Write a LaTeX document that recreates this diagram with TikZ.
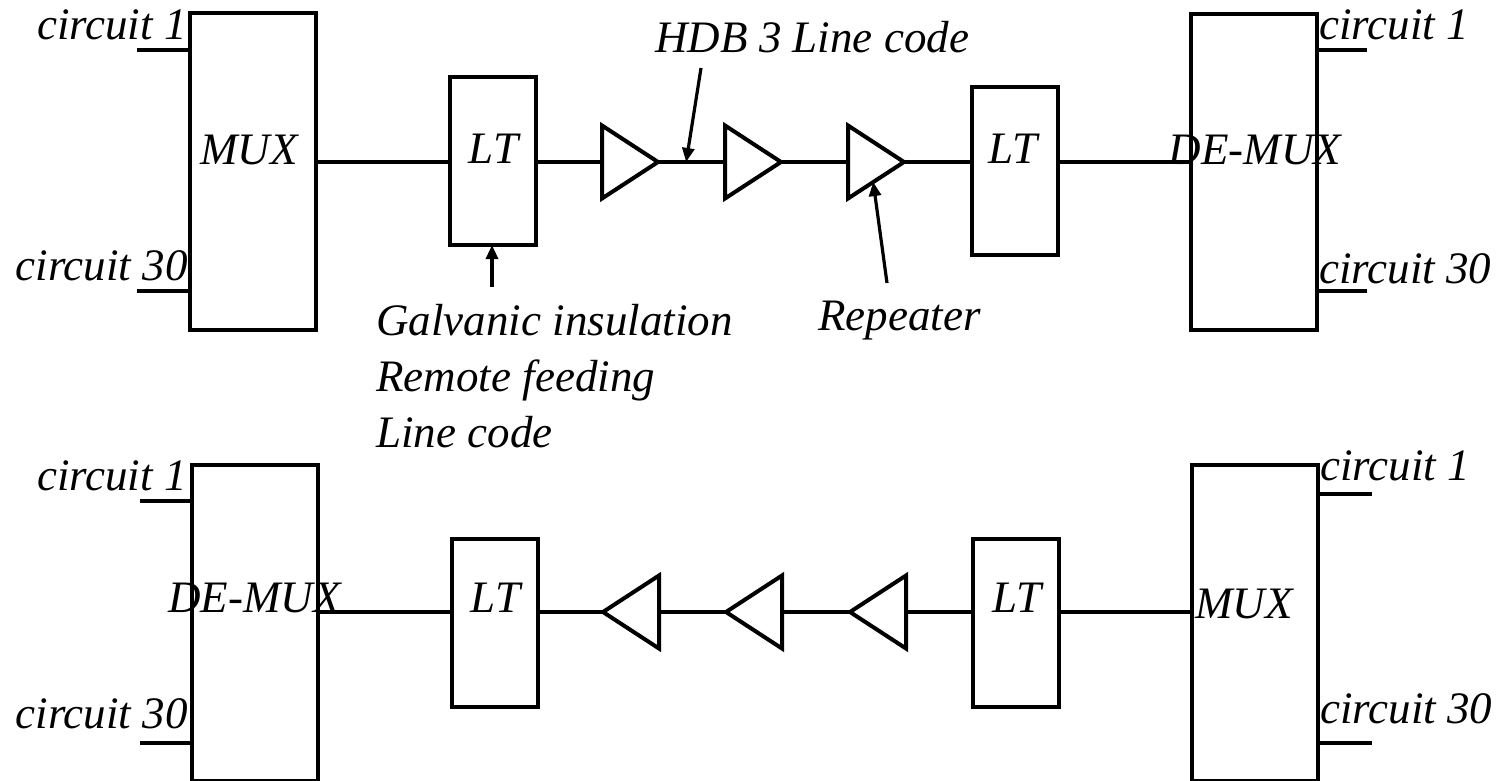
\documentclass[tikz,border=0pt]{standalone}
\usepackage{fontspec}
\setmainfont{Liberation Serif}
\usepackage{tikz}
\usetikzlibrary{arrows.meta, calc, shapes.geometric}

\begin{document}
\begin{tikzpicture}[
    x=0.5pt, y=-0.5pt,
    unit/.style={
        rectangle, draw, line width=2pt,
        inner sep=0pt, outer sep=0pt
    },
    muxbox/.style={unit, minimum width=63pt, minimum height=158pt},
    ltbox/.style={unit, minimum width=43pt, minimum height=84pt},
    amp/.style={
        isosceles triangle, isosceles triangle stretches, draw,
        line width=2pt, inner sep=0pt, outer sep=0pt,
        minimum width=36.5pt, minimum height=28pt
    },
    lbl/.style={inner sep=0pt, font=\fontsize{22.5}{28}\selectfont\itshape},
    wire/.style={line width=2pt},
    arr/.style={-{Triangle[length=7pt, width=6pt]}, line width=1.6pt},
]
\useasboundingbox (0,0) rectangle (1509,781);

%% Row 1: MUX -> LT -> repeaters -> LT -> DE-MUX
\node[muxbox] (mux1)   at (252.5,171.5) {};
\node[ltbox]  (lt1)    at (493,161) {};
\node[amp, anchor=west] (tri1) at (602,162) {};
\node[amp, anchor=west] (tri2) at (725,162) {};
\node[amp, anchor=west] (tri3) at (848,162) {};
\node[ltbox]  (lt2)    at (1014.5,171) {};
\node[muxbox] (demux1) at (1253.5,172) {};

\node[lbl, anchor=base] (mux1t)   at (249,164) {MUX};
\node[lbl, anchor=base] (lt1t)    at (493.5,163) {LT};
\node[lbl, anchor=base] (lt2t)    at (1013,163) {LT};
\node[lbl, anchor=base] (demux1t) at (1255,164) {DE-MUX};

%% Row 1 circuits
\coordinate (in1)  at (137,50);
\coordinate (in30) at (137,291);
\coordinate (out1)  at (1367,50);
\coordinate (out30) at (1367,291);
\draw[wire] (in1)  -- (in1 -| mux1.west);
\draw[wire] (in30) -- (in30 -| mux1.west);
\draw[wire] (out1 -| demux1.east)  -- (out1);
\draw[wire] (out30 -| demux1.east) -- (out30);
\node[lbl, anchor=base east] (c1a)  at (187,40)  {circuit 1};
\node[lbl, anchor=base east] (c30a) at (188,280) {circuit 30};
\node[lbl, anchor=base west] (c1b)  at (1319,40)  {circuit 1};
\node[lbl, anchor=base west] (c30b) at (1319,283) {circuit 30};

%% Row 1 line
\draw[wire] (mux1.east |- tri1.west) -- (lt1.west |- tri1.west);
\draw[wire] (lt1.east |- tri1.west) -- (tri1.west);
\draw[wire] (tri1.east) -- (tri2.west);
\draw[wire] (tri2.east) -- (tri3.west);
\draw[wire] (tri3.east) -- (tri3.east -| lt2.west);
\draw[wire] (lt2.east |- tri3.east) -- (demux1.west |- tri3.east);

%% Row 1 annotations
\coordinate (hdb)  at (701,68);
\coordinate (galv) at (492,287);
\coordinate (rep)  at (887,283);
\draw[arr] (hdb) -- ($(tri1.east)!0.42!(tri2.west)$);
\draw[arr] (galv) -- (galv |- lt1.south);
\draw[arr] (rep) -- ($(tri3.apex)!0.55!(tri3.right corner)$);
\node[lbl, anchor=base west] (hdbt) at (655,53) {HDB 3 Line code};
\node[lbl, anchor=base west] (rept) at (818,330) {Repeater};
\node[lbl, anchor=base west, align=left] (galvt) at (376,447)
    {Galvanic insulation\\Remote feeding\\Line code};

%% Row 2: DE-MUX <- LT <- repeaters <- LT <- MUX
\node[muxbox] (demux2) at (254.5,622.5) {};
\node[ltbox]  (lt3)    at (495,622.5) {};
\node[amp, shape border rotate=180, anchor=east] (tri4) at (659,612) {};
\node[amp, shape border rotate=180, anchor=east] (tri5) at (782,612) {};
\node[amp, shape border rotate=180, anchor=east] (tri6) at (906,612) {};
\node[ltbox]  (lt4)    at (1015.5,622.5) {};
\node[muxbox] (mux2)   at (1255,622.5) {};

\node[lbl, anchor=base] (demux2t) at (254.5,612) {DE-MUX};
\node[lbl, anchor=base] (lt3t)    at (495.5,612) {LT};
\node[lbl, anchor=base] (lt4t)    at (1017,612) {LT};
\node[lbl, anchor=base] (mux2t)   at (1244,618) {MUX};

%% Row 2 circuits
\coordinate (in1r)   at (1372,494);
\coordinate (in30r)  at (1372,743);
\coordinate (out1l)  at (140,501);
\coordinate (out30l) at (140,743);
\draw[wire] (out1l)  -- (out1l -| demux2.west);
\draw[wire] (out30l) -- (out30l -| demux2.west);
\draw[wire] (in1r -| mux2.east)  -- (in1r);
\draw[wire] (in30r -| mux2.east) -- (in30r);
\node[lbl, anchor=base east] (c1c)  at (187,490) {circuit 1};
\node[lbl, anchor=base east] (c30c) at (188,728) {circuit 30};
\node[lbl, anchor=base west] (c1d)  at (1320,480) {circuit 1};
\node[lbl, anchor=base west] (c30d) at (1320,723) {circuit 30};

%% Row 2 line
\draw[wire] (demux2.east |- tri4.west) -- (lt3.west |- tri4.west);
\draw[wire] (lt3.east |- tri4.west) -- (tri4.west);
\draw[wire] (tri4.east) -- (tri5.west);
\draw[wire] (tri5.east) -- (tri6.west);
\draw[wire] (tri6.east) -- (tri6.east -| lt4.west);
\draw[wire] (lt4.east |- tri6.east) -- (mux2.west |- tri6.east);

\end{tikzpicture}
\end{document}
